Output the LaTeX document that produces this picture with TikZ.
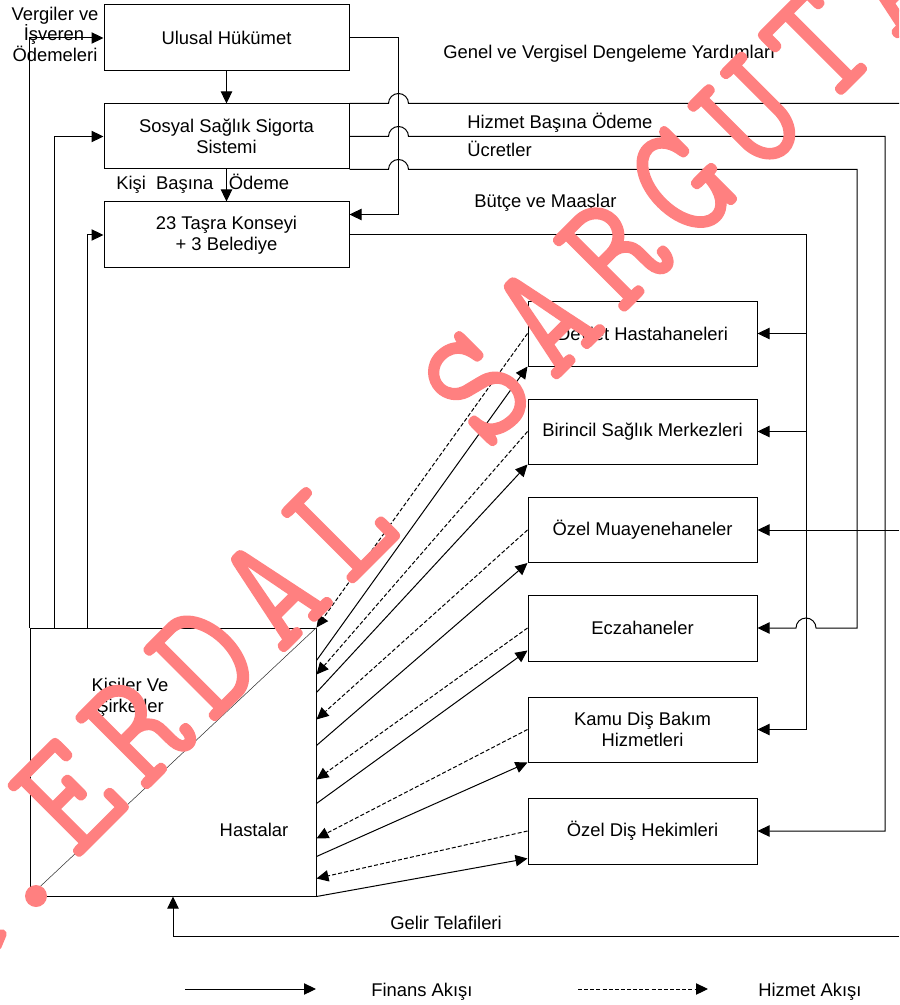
\documentclass[tikz,border=0pt]{standalone}
\usepackage{fontspec}
\setmainfont{Liberation Sans}
\newfontfamily\wmfam{lmmono10-regular.otf}[FakeBold=0.8,FakeStretch=0.9]
\usetikzlibrary{arrows.meta,calc}
\definecolor{wm}{RGB}{255,128,128}
\newcommand{\dfont}{\fontsize{13.8}{15.5}\selectfont}
\newcommand{\wmfont}{\wmfam\fontsize{126}{126}\selectfont}
\begin{document}
\begin{tikzpicture}[x=0.75pt,y=-0.75pt,
  box/.style={draw=black,line width=0.75pt,minimum width=171.75pt,minimum height=48.75pt,inner sep=0pt,align=center,font=\dfont},
  fin/.style={line width=0.75pt,-{Triangle[length=9pt,width=8.5pt]}},
  ser/.style={fin,dash pattern=on 3pt off 1.6pt},
  plain/.style={line width=0.75pt},
  lbl/.style={font=\dfont,inner sep=0pt},
  wmark/.style={text=wm,font=\wmfont,inner sep=0pt,rotate=45,anchor=base}
]
\useasboundingbox (0,0) rectangle (899,1005);
\clip (0,0) rectangle (899,1005);
\fill[white] (0,0) rectangle (899,1005);

% government boxes
\node[box,minimum width=183.75pt,minimum height=49.5pt] (ulu) at (226.5,38) {Ulusal Hükümet};
\node[box,minimum width=183.75pt] (sos) at (226.5,136.5) {Sosyal Sağlık Sigorta\\Sistemi};
\node[box,minimum width=183.75pt,minimum height=49.5pt] (tas) at (226.5,235) {23 Taşra Konseyi\\+ 3 Belediye};

% providers
\node[box] (dev) at (642.5,333.5) {Devlet Hastahaneleri};
\node[box] (bir) at (642.5,431.5) {Birincil Sağlık Merkezleri};
\node[box] (ozm) at (642.5,530) {Özel Muayenehaneler};
\node[box,minimum height=49.5pt] (ecz) at (642.5,628) {Eczahaneler};
\node[box] (kamu) at (642.5,729.5) {Kamu Diş Bakım\\Hizmetleri};
\node[box,minimum height=49.5pt] (ozd) at (642.5,831) {Özel Diş Hekimleri};

% people box
\node[draw=black,line width=0.75pt,minimum width=214.5pt,minimum height=201pt,inner sep=0pt] (has) at (173,762) {};
\draw[line width=0.4pt,black!80] (has.south west) -- (has.north east);
\node[lbl,anchor=base] (kis1) at (130,691.7) {Kişiler Ve};
\node[lbl,anchor=base] (kis2) at (130,712.7) {Şirketler};
\node[lbl,anchor=base] (hst) at (254,836.7) {Hastalar};

% left labels
\node[lbl,anchor=base] (v1) at (55,20.5) {Vergiler ve};
\node[lbl,anchor=base] (v2) at (54,41) {İşveren};
\node[lbl,anchor=base] (v3) at (55,61.5) {Ödemeleri};

% vertical chain
\draw[fin] (ulu.south) -- (sos.north);
\draw[fin] (sos.south) -- (tas.north);
\node[lbl,anchor=base west] (kb1) at (116,189.5) {Kişi\ \ Başına};
\node[lbl,anchor=base west] (kb2) at (228.5,189.5) {Ödeme};

% left feeds
\draw[fin] (has.north west) -- (has.north west |- ulu.west) -- (ulu.west);
\draw[fin] ($(has.north west)+(25,0)$) |- (sos.west);
\draw[fin] ($(has.north west)+(58,0)$) |- (tas.west);

% national gov to councils
\draw[fin] (ulu.east) -- ++(49,0) |- ($(tas.north east)+(0,13)$);

% lines from insurance system
\coordinate (xg) at (899,0);
\coordinate (xh) at (885,0);
\coordinate (xu) at (857,0);
\coordinate (xb) at (806,0);
\draw[plain] (sos.north east) -- ++(39,0) arc[start angle=180,end angle=0,radius=7.5pt] -- (sos.north east -| xg);
\draw[fin] (sos.east) -- ++(39,0) arc[start angle=180,end angle=0,radius=7.5pt] -- (sos.east -| xh) |- (ozd.east);
\draw[fin] (sos.south east) -- ++(39,0) arc[start angle=180,end angle=0,radius=7.5pt] -- (sos.south east -| xu) -- (ecz.east -| xu) -- ($(ecz.east -| xb)+(10,0)$) arc[start angle=0,end angle=180,radius=7.5pt] -- (ecz.east);
\draw[fin] (tas.east) -- (tas.east -| xb) |- (kamu.east);
\draw[fin] (dev.east -| xb) -- (dev.east);
\draw[fin] (bir.east -| xb) -- (bir.east);
\draw[fin] (ozm.east -| xg) -- (ozm.east);

\node[lbl,anchor=base west] (lg) at (443,58.3) {Genel ve Vergisel Dengeleme Yardımları};
\node[lbl,anchor=base west] (lh) at (467,129) {Hizmet Başına Ödeme};
\node[lbl,anchor=base west] (lu) at (467,156.7) {Ücretler};
\node[lbl,anchor=base west] (lb) at (474,208) {Bütçe ve Maaşlar};

% service flows (dashed) providers -> patients
\draw[ser] (dev.west) -- (has.north east);
\draw[ser] (bir.west) -- ($(has.north east)+(0,47)$);
\draw[ser] (ozm.west) -- ($(has.north east)+(0,92)$);
\draw[ser] (ecz.west) -- ($(has.north east)+(0,152)$);
\draw[ser] (kamu.west) -- ($(has.north east)+(0,211)$);
\draw[ser] (ozd.west) -- ($(has.north east)+(0,251)$);

% finance flows patients -> providers
\draw[fin] ($(has.north east)+(0,33)$) -- (dev.south west);
\draw[fin] ($(has.north east)+(0,65)$) -- (bir.south west);
\draw[fin] ($(has.north east)+(0,118)$) -- (ozm.south west);
\draw[fin] ($(has.north east)+(0,176)$) -- ($(ecz.south west)+(0,-11)$);
\draw[fin] ($(has.north east)+(0,229)$) -- (kamu.south west);
\draw[fin] (has.south east) -- ($(ozd.south west)+(0,-6)$);

% revenue compensation
\draw[fin] (899,936) -| (has.south);
\node[lbl,anchor=base west] (lgt) at (390,929) {Gelir Telafileri};

% legend
\coordinate (l1a) at (185,989);
\coordinate (l1b) at (316,989);
\coordinate (l2a) at (578,989);
\coordinate (l2b) at (708,989);
\draw[fin] (l1a) -- (l1b);
\draw[ser] (l2a) -- (l2b);
\node[lbl,anchor=base west] (lf) at (371,996.5) {Finans Akışı};
\node[lbl,anchor=base west] (lz) at (758,996.5) {Hizmet Akışı};

% watermark
\foreach \c [count=\i from 0] in {E,R,D,A,L,{},S,A,R,G,U,T,A,N}{
  \node[wmark] at ({104.4+68.2*\i},{832.6-68.2*\i}) {\c};
}
\fill[wm] (36,896) circle[radius=8.25pt];
\draw[wm,line width=7pt,line cap=round] (-3,946) -- (2,934);
\end{tikzpicture}
\end{document}
